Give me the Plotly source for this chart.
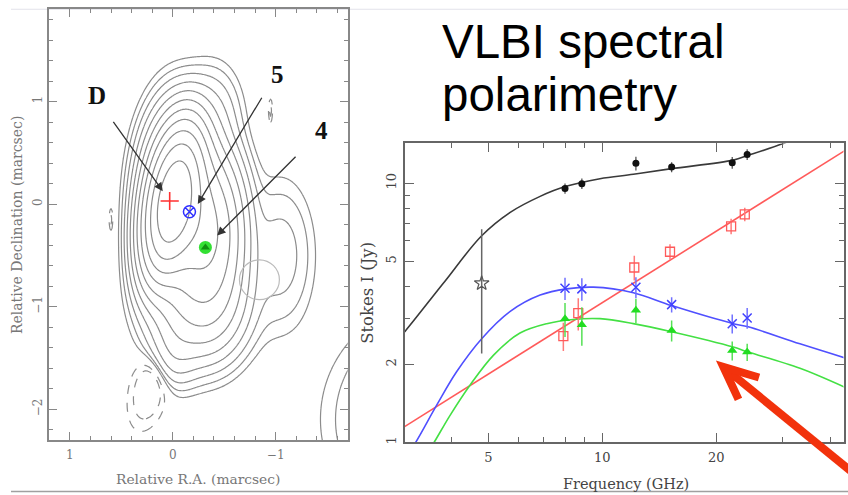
import numpy as np
import plotly.graph_objects as go

W, H = 848, 495

# ---------------- spectrum (right panel) data ----------------
freq = [7.97, 8.83, 12.27, 15.25, 22.05, 24.15]
total_i = [9.55, 9.97, 11.94, 11.55, 12.01, 12.93]
total_err = [0.43, 0.47, 0.73, 0.52, 0.63, 0.62]
red_freq = [7.89, 8.64, 12.15, 15.1, 21.9, 23.8]
red_i = [2.57, 3.15, 4.73, 5.44, 6.82, 7.59]
red_err = [0.32, 0.45, 0.52, 0.37, 0.47, 0.46]
blue_i = [3.93, 3.91, 3.97, 3.40, 2.87, 3.02]
blue_err = [0.39, 0.39, 0.37, 0.23, 0.24, 0.28]
green_i = [3.00, 2.84, 3.23, 2.70, 2.26, 2.23]
green_err = [0.45, 0.48, 0.35, 0.25, 0.19, 0.17]
star_f = [4.80]
star_i = [4.11]
star_up = [2.54]
star_dn = [1.91]

# fitted spectra
black_fit_f = [2.95, 3.01, 3.80, 4.80, 5.71, 6.85, 7.97, 9.86, 12.08, 15.25, 22.2, 24.3, 30.06, 33.3]
black_fit_i = [2.6, 2.68, 4.11, 6.27, 7.72, 8.90, 9.71, 10.42, 10.83, 11.39, 12.29, 12.82, 14.25, 15.2]
red_fit_f = [2.96, 45.1]
red_fit_i = [1.134, 13.75]
blue_fit_f = [3.10, 3.20, 3.65, 4.12, 4.80, 5.71, 6.85, 8.05, 9.47, 12.08, 15.25, 22.2, 24.3, 33.3, 44.6]
blue_fit_i = [0.93, 0.99, 1.39, 1.87, 2.51, 3.20, 3.70, 3.91, 3.97, 3.78, 3.37, 2.87, 2.79, 2.40, 2.10]
green_fit_f = [3.48, 3.58, 3.96, 4.47, 5.16, 6.06, 7.13, 8.38, 9.86, 12.08, 15.25, 22.2, 24.3, 33.3, 44.6]
green_fit_i = [0.93, 0.99, 1.27, 1.66, 2.17, 2.64, 2.87, 2.98, 3.00, 2.87, 2.67, 2.33, 2.23, 1.93, 1.61]

# ---------------- VLBI map (left panel): brightness components ----------------
comp_ra = [0.0, -0.08, -0.35, -1.05, -0.25, 0.0, -0.40, -2.6, 0.20, -0.95, 0.60]
comp_dec = [0.02, 0.0, -0.30, -0.50, -0.95, -1.45, 0.88, -2.1, -1.73, 0.91, -0.15]
comp_amp = [1.0, 0.25, 0.15, 0.0035, 0.035, 0.006, 0.004, 0.0115, -0.003, -0.0015, -0.0015]
comp_sx = [0.12, 0.17, 0.17, 0.18, 0.24, 0.14, 0.15, 0.48, 0.12, 0.015, 0.015]
comp_sy = [0.33, 0.40, 0.40, 0.405, 0.30, 0.20, 0.27, 0.48, 0.28, 0.085, 0.085]
comp_pa = [-10, 0, 0, 0, 0, 0, 0, 0, -15, 0, 0]
n_levels = 11

comp_names = ["D", "5", "4"]
comp_pos_ra = [0.03, -0.162, -0.317]
comp_pos_dec = [0.03, -0.074, -0.423]

# ---------------- build the map field ----------------
gx = np.round(np.arange(-1.75, 1.2501, 0.01), 3)
gy = np.round(np.arange(-2.35, 1.9501, 0.01), 3)
XX, YY = np.meshgrid(gx, gy)
F = np.zeros_like(XX)
for ra, de, a, sx, sy, pa in zip(comp_ra, comp_dec, comp_amp, comp_sx, comp_sy, comp_pa):
    t = np.deg2rad(pa)
    dx = XX - ra
    dy = YY - de
    u = dx * np.cos(t) - dy * np.sin(t)
    v = dx * np.sin(t) + dy * np.cos(t)
    F += a * np.exp(-0.5 * ((u / sx) ** 2 + (v / sy) ** 2))
F = F / F.max()
zpos = np.round(np.log2(np.clip(F, 1e-7, None)), 3)
zneg = np.round(np.log2(np.clip(-F, 1e-7, None)), 3)

def px(x):
    return x / W

def py(y):
    return 1 - y / H

fig = go.Figure()

gray_scale = [[0, "#8c8c8c"], [1, "#8c8c8c"]]
fig.add_trace(go.Contour(
    x=gx, y=gy, z=zpos, xaxis="x", yaxis="y",
    contours=dict(start=-n_levels, end=-1, size=1, coloring="lines"),
    colorscale=gray_scale, showscale=False, line=dict(width=1.2, smoothing=1),
    hoverinfo="skip"))
fig.add_trace(go.Contour(
    x=gx, y=gy, z=zneg, xaxis="x", yaxis="y",
    contours=dict(start=-n_levels, end=-n_levels + 1, size=1, coloring="lines"),
    colorscale=gray_scale, showscale=False, line=dict(width=1.2, dash="dash", smoothing=1),
    hoverinfo="skip"))

# component markers
fig.add_trace(go.Scatter(x=[comp_pos_ra[0]], y=[comp_pos_dec[0]], mode="markers", xaxis="x", yaxis="y",
                         marker=dict(symbol="cross-thin", size=13, line=dict(color="#ff3030", width=1.6))))
fig.add_trace(go.Scatter(x=[comp_pos_ra[1]], y=[comp_pos_dec[1]], mode="markers", xaxis="x", yaxis="y",
                         marker=dict(symbol="circle-x-open", size=12, color="#3030ff", line=dict(width=1.5))))
fig.add_trace(go.Scatter(x=[comp_pos_ra[2]], y=[comp_pos_dec[2]], mode="markers", xaxis="x", yaxis="y",
                         marker=dict(symbol="circle", size=13, color="#33e033")))
fig.add_trace(go.Scatter(x=[comp_pos_ra[2]], y=[comp_pos_dec[2]], mode="markers", xaxis="x", yaxis="y",
                         marker=dict(symbol="triangle-up", size=8, color="#109010")))

# ---------------- spectrum traces ----------------
fig.add_trace(go.Scatter(x=black_fit_f, y=black_fit_i, mode="lines", xaxis="x2", yaxis="y2",
                         line=dict(color="#3a3a3a", width=1.6, shape="spline", smoothing=1.0)))
fig.add_trace(go.Scatter(x=red_fit_f, y=red_fit_i, mode="lines", xaxis="x2", yaxis="y2",
                         line=dict(color="#ff5a5a", width=1.6)))
fig.add_trace(go.Scatter(x=blue_fit_f, y=blue_fit_i, mode="lines", xaxis="x2", yaxis="y2",
                         line=dict(color="#5050ff", width=1.6, shape="spline", smoothing=1.0)))
fig.add_trace(go.Scatter(x=green_fit_f, y=green_fit_i, mode="lines", xaxis="x2", yaxis="y2",
                         line=dict(color="#44e044", width=1.6, shape="spline", smoothing=1.0)))

fig.add_trace(go.Scatter(x=freq, y=total_i, mode="markers", xaxis="x2", yaxis="y2",
                         marker=dict(symbol="circle", size=7, color="#111"),
                         error_y=dict(type="data", array=total_err, color="#555", thickness=1.3, width=0)))
fig.add_trace(go.Scatter(x=star_f, y=star_i, mode="markers", xaxis="x2", yaxis="y2",
                         marker=dict(symbol="star-open", size=11, color="#555", line=dict(width=1.2)),
                         error_y=dict(type="data", symmetric=False, array=star_up, arrayminus=star_dn,
                                      color="#666", thickness=1.5, width=0)))
fig.add_trace(go.Scatter(x=red_freq, y=red_i, mode="markers", xaxis="x2", yaxis="y2",
                         marker=dict(symbol="square-open", size=9, color="#ff5a5a", line=dict(width=1.3)),
                         error_y=dict(type="data", array=red_err, color="#ff7a7a", thickness=1.5, width=0)))
fig.add_trace(go.Scatter(x=freq, y=blue_i, mode="markers", xaxis="x2", yaxis="y2",
                         marker=dict(symbol="x-thin", size=9, color="#4040ff", line=dict(width=1.5, color="#4040ff")),
                         error_y=dict(type="data", array=blue_err, color="#7070ff", thickness=1.5, width=0)))
fig.add_trace(go.Scatter(x=freq, y=green_i, mode="markers", xaxis="x2", yaxis="y2",
                         marker=dict(symbol="triangle-up", size=9, color="#22dd22"),
                         error_y=dict(type="data", array=green_err, color="#55e055", thickness=1.5, width=0)))

left_font = dict(family="DejaVu Serif", size=12, color="#777")
right_font = dict(family="DejaVu Serif", size=13, color="#444")

ax_common = dict(showgrid=False, zeroline=False, showline=True, mirror="ticks", ticks="inside")

fig.update_layout(
    width=W, height=H, margin=dict(l=0, r=0, t=0, b=0),
    paper_bgcolor="white", plot_bgcolor="white", showlegend=False,
    xaxis=dict(**ax_common, domain=[px(49.3), px(347.7)], range=[1.2, -1.7], anchor="y",
               tickvals=[1, 0, -1], ticktext=["1", "0", "\u22121"], ticklen=8,
               linecolor="#888", linewidth=1.5, tickcolor="#888", tickwidth=1.3,
               tickfont=left_font, ticklabelstandoff=3,
               minor=dict(dtick=0.2, tick0=0, ticklen=4, tickcolor="#888", ticks="inside")),
    yaxis=dict(**ax_common, domain=[py(441.7), py(9.3)], range=[-2.3, 1.9], anchor="x",
               tickvals=[-2, -1, 0, 1], ticktext=["\u22122", "\u22121", "0", "1"], ticklen=8,
               tickangle=-90, linecolor="#888", linewidth=1.5, tickcolor="#888", tickwidth=1.3,
               tickfont=left_font, ticklabelstandoff=1,
               minor=dict(dtick=0.2, tick0=0, ticklen=4, tickcolor="#888", ticks="inside")),
    xaxis2=dict(**ax_common, type="log", domain=[px(405), px(843.5)],
                range=[np.log10(3.01), np.log10(43.4)], anchor="y2",
                tickvals=[5, 10, 20], ticktext=["5", "10", "20"], ticklen=9,
                linecolor="#666", linewidth=1.6, tickcolor="#666", tickwidth=1.3,
                tickfont=right_font, ticklabelstandoff=2,
                minor=dict(tickmode="array", tickvals=[4, 6, 7, 8, 9, 30, 40], ticklen=5,
                           tickcolor="#666", ticks="inside")),
    yaxis2=dict(**ax_common, type="log", domain=[py(444), py(144)], range=[0, 1.154], anchor="x2",
                tickvals=[1, 2, 5, 10], ticktext=["1", "2", "5", "10"], ticklen=9, tickangle=-90,
                linecolor="#666", linewidth=1.6, tickcolor="#666", tickwidth=1.3,
                tickfont=right_font, ticklabelstandoff=2,
                minor=dict(tickmode="array", tickvals=[3, 4, 6, 7, 8, 9], ticklen=5,
                           tickcolor="#666", ticks="inside")),
)

def txt(text, x, y, size, color, family, angle=0, xa="center", ya="middle"):
    return dict(text=text, x=px(x), y=py(y), xref="paper", yref="paper", xanchor=xa, yanchor=ya,
                showarrow=False, textangle=angle, font=dict(family=family, size=size, color=color))

ann = []
ann.append(txt("VLBI spectral", 440, 13, 47.5, "#000", "Liberation Sans", xa="left", ya="top"))
ann.append(txt("polarimetry", 440, 66, 47.5, "#000", "Liberation Sans", xa="left", ya="top"))
ann.append(txt("Relative R.A. (marcsec)", 198, 481, 13.8, "#777", "DejaVu Serif"))
ann.append(txt("Relative Declination (marcsec)", 17, 226, 14, "#777", "DejaVu Serif", angle=-90))
ann.append(txt("Stokes I (Jy)", 368, 294, 16.5, "#444", "DejaVu Serif", angle=-90))
ann.append(txt("Frequency (GHz)", 626, 486, 14.5, "#444", "DejaVu Serif"))

label_ra = [0.74, -1.017, -1.444]
label_dec = [1.055, 1.26, 0.716]
tail_ra = [0.588, -0.874, -1.208]
tail_dec = [0.816, 1.052, 0.476]
tip_ra = [0.097, -0.243, -0.431]
tip_dec = [0.126, 0.0, -0.307]
for name, lr, ld, tr, td, hr, hd in zip(comp_names, label_ra, label_dec, tail_ra, tail_dec, tip_ra, tip_dec):
    ann.append(dict(text="<b>%s</b>" % name, x=lr, y=ld, xref="x", yref="y", showarrow=False,
                    xanchor="center", yanchor="middle",
                    font=dict(family="Liberation Serif", size=25, color="#111")))
    ann.append(dict(text="", x=hr, y=hd, xref="x", yref="y", ax=tr, ay=td, axref="x", ayref="y",
                    showarrow=True, arrowhead=2, arrowsize=1.3, arrowwidth=1.3, arrowcolor="#333"))
fig.update_layout(annotations=ann)

c_ra, c_dec, c_r = -0.842, -0.738, 0.194
def pp(x, y):
    return "%.5f,%.5f" % (px(x), py(y))
fig.update_layout(shapes=[
    dict(type="circle", xref="x", yref="y", x0=c_ra - c_r, x1=c_ra + c_r, y0=c_dec - c_r, y1=c_dec + c_r,
         line=dict(color="#bbbbbb", width=1.2)),
    dict(type="line", xref="paper", yref="paper", x0=px(11), x1=1, y0=py(9.3), y1=py(9.3),
         line=dict(color="#e2e2ea", width=1), layer="below"),
    dict(type="line", xref="paper", yref="paper", x0=px(11), x1=1, y0=py(493.5), y1=py(493.5),
         line=dict(color="#a0a0a0", width=1.5)),
    dict(type="path", xref="paper", yref="paper",
         path="M " + pp(727, 371.5) + " L " + pp(885, 501),
         line=dict(color="#f2320c", width=8)),
    dict(type="path", xref="paper", yref="paper",
         path="M " + pp(759, 379) + " L " + pp(723.3, 368.3) + " L " + pp(738.5, 401),
         line=dict(color="#f2320c", width=8)),
])

fig.write_html("out.html")
